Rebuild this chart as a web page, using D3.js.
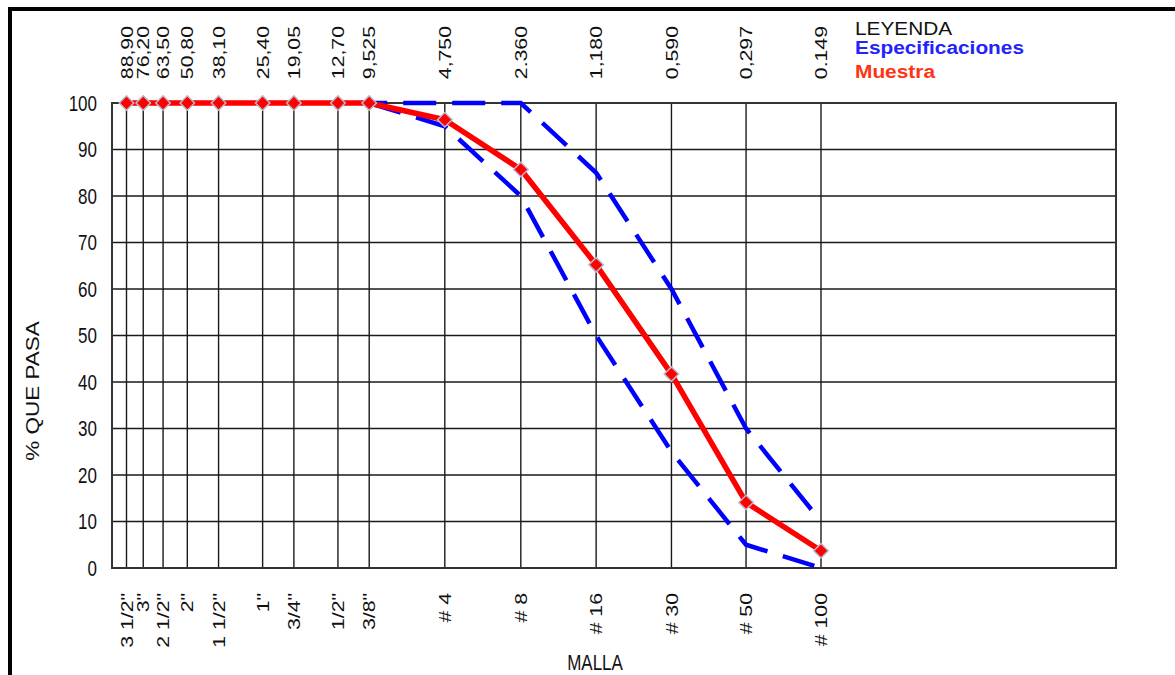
<!DOCTYPE html>
<html>
<head>
<meta charset="utf-8">
<script src="https://cdn.jsdelivr.net/npm/d3@7"></script>
<style>
  body { margin: 0; background: #fff; }
  text { font-family: "Liberation Sans", Arial, sans-serif; }
</style>
</head>
<body>
<script>
// sieve openings (mm), labels on top and bottom
const openings = [88.9, 76.2, 63.5, 50.8, 38.1, 25.4, 19.05, 12.7, 9.525, 4.75, 2.36, 1.18, 0.59, 0.297, 0.149];
const topLabels = ["88,90", "76,20", "63,50", "50,80", "38,10", "25,40", "19,05", "12,70", "9,525", "4,750", "2.360", "1,180", "0,590", "0,297", "0.149"];
const meshLabels = ['3 1/2"', '3"', '2 1/2"', '2"', '1 1/2"', '1"', '3/4"', '1/2"', '3/8"', "# 4", "# 8", "# 16", "# 30", "# 50", "# 100"];
const yTicks = [0, 10, 20, 30, 40, 50, 60, 70, 80, 90, 100];

// % que pasa
const muestra = [100, 100, 100, 100, 100, 100, 100, 100, 100, 96.4, 85.7, 65.2, 41.7, 14.1, 3.7];
const specOpenings = [9.525, 4.75, 2.36, 1.18, 0.59, 0.297, 0.149];
const specUpper = [100, 100, 100, 85, 60, 30, 10];
const specLower = [100, 95, 80, 50, 25, 5, 0];

const W = 1175, H = 675;
const box = { left: 112, right: 1116, top: 103, bottom: 568 };
const stretch = 1.25; // text in the picture is taller than wide

const x = d3.scaleLog().domain([88.9, 0.149]).range([126.5, 821]);
const y = d3.scaleLinear().domain([0, 100]).range([box.bottom, box.top]);

const svg = d3.select("body").append("svg")
    .attr("width", W)
    .attr("height", H);

svg.append("rect").attr("width", W).attr("height", H).attr("fill", "#fff");

// outer frame (only left and top visible)
svg.append("path")
    .attr("d", `M10,${H + 5} V9 H${W + 5}`)
    .attr("fill", "none")
    .attr("stroke", "#000")
    .attr("stroke-width", 4);

const grid = svg.append("g");

grid.selectAll(".h")
    .data(yTicks)
    .join("line")
    .attr("x1", box.left).attr("x2", box.right)
    .attr("y1", d => y(d)).attr("y2", d => y(d))
    .attr("stroke", "#1a1a1a")
    .attr("stroke-width", 1.4);

grid.selectAll(".v")
    .data(openings)
    .join("line")
    .attr("x1", d => x(d)).attr("x2", d => x(d))
    .attr("y1", box.top).attr("y2", box.bottom)
    .attr("stroke", "#1a1a1a")
    .attr("stroke-width", 1.4);

svg.append("rect")
    .attr("x", box.left).attr("y", box.top)
    .attr("width", box.right - box.left)
    .attr("height", box.bottom - box.top)
    .attr("fill", "none")
    .attr("stroke", "#333")
    .attr("stroke-width", 2);

// y tick labels
svg.selectAll(".ytick")
    .data(yTicks)
    .join("text")
    .attr("transform", d => `translate(97,${y(d)}) scale(1,${stretch})`)
    .attr("dy", "0.36em")
    .attr("text-anchor", "end")
    .attr("font-size", 17)
    .attr("fill", "#111")
    .text(d => d);

// top labels (openings)
svg.selectAll(".toplab")
    .data(openings)
    .join("text")
    .attr("transform", d => `translate(${x(d)},26) scale(1,${stretch}) rotate(-90)`)
    .attr("dy", "0.36em")
    .attr("text-anchor", "end")
    .attr("font-size", 17)
    .attr("fill", "#111")
    .text((d, i) => topLabels[i]);

// bottom labels (mesh)
svg.selectAll(".meshlab")
    .data(openings)
    .join("text")
    .attr("transform", d => `translate(${x(d)},593) scale(1,${stretch}) rotate(-90)`)
    .attr("dy", "0.36em")
    .attr("text-anchor", "end")
    .attr("font-size", 17)
    .attr("fill", "#111")
    .text((d, i) => meshLabels[i]);

svg.append("text")
    .attr("transform", `translate(595,670) scale(1,${stretch})`)
    .attr("text-anchor", "middle")
    .attr("font-size", 17)
    .attr("fill", "#111")
    .text("MALLA");

svg.append("text")
    .attr("transform", `translate(33,391) scale(1,${stretch}) rotate(-90)`)
    .attr("dy", "0.36em")
    .attr("text-anchor", "middle")
    .attr("font-size", 18)
    .attr("fill", "#111")
    .text("% QUE PASA");

// specification limits
const line = d3.line().x(d => x(d[0])).y(d => y(d[1]));

svg.append("path")
    .datum(specOpenings.map((o, i) => [o, specUpper[i]]))
    .attr("d", line)
    .attr("fill", "none")
    .attr("stroke", "#0000ff")
    .attr("stroke-width", 4.5)
    .attr("stroke-dasharray", "33,16")
    .attr("stroke-dashoffset", 15);

svg.append("path")
    .datum(specOpenings.map((o, i) => [o, specLower[i]]))
    .attr("d", line)
    .attr("fill", "none")
    .attr("stroke", "#0000ff")
    .attr("stroke-width", 4.5)
    .attr("stroke-dasharray", "33,16");

// sample curve
const sample = openings.map((o, i) => [o, muestra[i]]);

svg.append("path")
    .datum(sample)
    .attr("d", line)
    .attr("fill", "none")
    .attr("stroke", "#ff0000")
    .attr("stroke-width", 5.5)
    .attr("stroke-linejoin", "round");

svg.selectAll(".pt")
    .data(sample)
    .join("path")
    .attr("transform", d => `translate(${x(d[0])},${y(d[1])}) rotate(45)`)
    .attr("d", d3.symbol().type(d3.symbolSquare).size(105))
    .attr("fill", "#ff0000")
    .attr("stroke", "#b8b8cc")
    .attr("stroke-width", 1.5);

// legend
const legend = svg.append("g");
legend.append("text")
    .attr("x", 855).attr("y", 35)
    .attr("font-size", 19)
    .attr("textLength", 97)
    .attr("lengthAdjust", "spacingAndGlyphs")
    .attr("fill", "#111")
    .text("LEYENDA");
legend.append("text")
    .attr("x", 855).attr("y", 54)
    .attr("font-size", 18)
    .attr("font-weight", "bold")
    .attr("textLength", 169)
    .attr("lengthAdjust", "spacingAndGlyphs")
    .attr("fill", "#2222ff")
    .text("Especificaciones");
legend.append("text")
    .attr("x", 855).attr("y", 78)
    .attr("font-size", 18)
    .attr("font-weight", "bold")
    .attr("textLength", 80)
    .attr("lengthAdjust", "spacingAndGlyphs")
    .attr("fill", "#ff3311")
    .text("Muestra");
</script>
</body>
</html>
